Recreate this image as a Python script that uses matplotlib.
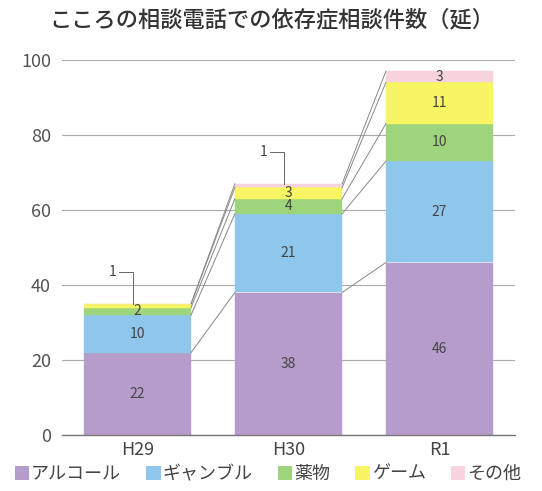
import matplotlib
matplotlib.use("Agg")
import matplotlib.pyplot as plt
from matplotlib.patches import Patch
import numpy as np

plt.rcParams['font.family'] = ['Noto Sans CJK JP', 'DejaVu Sans']

years = ["H29", "H30", "R1"]
categories = ["アルコール", "ギャンブル", "薬物", "ゲーム", "その他"]
alcohol = [22, 38, 46]
gambling = [10, 21, 27]
drugs = [2, 4, 10]
game = [1, 3, 11]
other = [0, 1, 3]
yticks = [0, 20, 40, 60, 80, 100]
title = "こころの相談電話での依存症相談件数（延）"

series = [alcohol, gambling, drugs, game, other]
colors = ["#B59CCB", "#8EC6EC", "#9ED57C", "#F7F564", "#F6D3DD"]

fig = plt.figure(figsize=(5.42, 4.91), dpi=100)
ax = fig.add_axes([62/542, 1-435/491, 453/542, 375/491])

x = np.arange(len(years))
w = 0.71
bottom = np.zeros(len(years))
tops = []
for vals, c in zip(series, colors):
    vals = np.array(vals, dtype=float)
    ax.bar(x, vals, w, bottom=bottom, color=c, edgecolor=c, lw=0.3, zorder=2)
    bottom = bottom + vals
    tops.append(bottom.copy())

# connecting lines
for t in tops:
    for i in range(len(years) - 1):
        ax.plot([x[i] + w/2, x[i+1] - w/2], [t[i], t[i+1]], color="#888888", lw=0.7, zorder=3)

# labels
bottom = np.zeros(len(years))
for vals in series:
    for i, v in enumerate(vals):
        if v >= 2:
            ax.text(x[i], bottom[i] + v/2, str(v), ha='center', va='center',
                    fontsize=10, color="#444444", zorder=4)
    bottom = bottom + np.array(vals)

# callouts for value 1 segments
def callout(i, yseg, val):
    ax.plot([x[i] - 0.12, x[i] - 0.03, x[i] - 0.03], [yseg + 9, yseg + 9, yseg + 0.5],
            color="#666666", lw=0.7, zorder=4)
    ax.text(x[i] - 0.14, yseg + 9, str(val), ha='right', va='center', fontsize=10, color="#444444")

callout(0, tops[2][0] + 0.5, game[0])
callout(1, tops[3][1] + 0.5, other[1])

ax.set_xlim(-0.5, 2.5)
ax.set_ylim(0, 100)
ax.set_yticks(yticks)
ax.set_xticks(x)
ax.set_xticklabels(years, fontsize=13, color="#444444")
ax.tick_params(axis='y', labelsize=13, labelcolor="#555555", length=0, pad=8)
ax.tick_params(axis='x', length=0, pad=4)
ax.yaxis.grid(True, color="#aaaaaa", lw=0.8, zorder=0)
ax.set_axisbelow(True)
for s in ['top', 'right', 'left']:
    ax.spines[s].set_visible(False)
ax.spines['bottom'].set_color("#777777")
ax.spines['bottom'].set_linewidth(1.0)
ax.spines['bottom'].set_zorder(5)

fig.text(272/542, 1-20/491, title, ha='center', va='center', fontsize=16,
         color="#333333", fontweight='medium')

handles = [Patch(facecolor=c, edgecolor='none') for c in colors]
fig.legend(handles, categories, loc='center', bbox_to_anchor=(268/542, 1-474/491), ncol=5,
           frameon=False, fontsize=13, handlelength=0.8, handleheight=0.8,
           handletextpad=0.1, columnspacing=1.4, labelcolor="#444444")

fig.savefig("out.png", dpi=100)
